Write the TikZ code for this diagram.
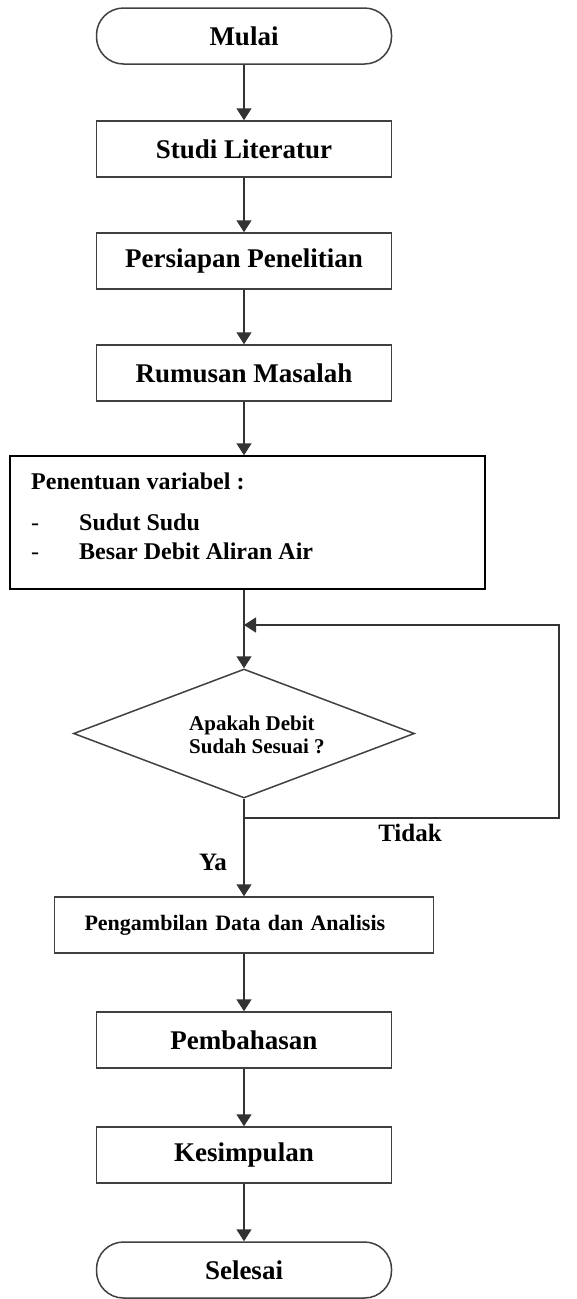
\documentclass[tikz,border=0pt]{standalone}
\usepackage{fontspec}
\setmainfont{Liberation Serif}
\usetikzlibrary{arrows.meta,shapes.geometric}

\begin{document}
\begin{tikzpicture}[x=1pt,y=-1pt,
  box/.style={draw=black!75,line width=1.5pt,minimum width=295pt,minimum height=56pt,inner sep=0pt,font=\fontsize{27}{32}\selectfont\bfseries},
  ends/.style={box,rounded corners=27pt},
  link/.style={draw=black!80,line width=1.5pt,-{Triangle[width=15pt,length=12pt]}},
  tag/.style={inner sep=0pt,font=\fontsize{25}{30}\selectfont\bfseries}]
\useasboundingbox (0,0) rectangle (577,1299);
\node[ends] (mulai) at (244,36) {Mulai};
\node[box] (studi) at (244,149) {Studi Literatur};
\node[box] (persiapan) at (244,261) {Persiapan Penelitian};
\node[box] (rumusan) at (244,373) {Rumusan Masalah};
\node[box,draw=black,minimum width=475pt,minimum height=133pt] (variabel) at (247.5,522.5) {};
\node[anchor=north west,align=left,inner sep=0pt,font=\fontsize{24}{29}\selectfont\bfseries] (isi) at (31,473)
  {Penentuan variabel :\\[12pt]\makebox[48pt][l]{\mdseries -}Sudut Sudu\\\makebox[48pt][l]{\mdseries -}Besar Debit Aliran Air};
\node[draw=black!75,line width=1.5pt,diamond,minimum width=341pt,minimum height=129pt,inner sep=0pt] (cek) at (244,733.5) {};
\node[anchor=west,align=left,inner sep=0pt,font=\fontsize{21}{23}\selectfont\bfseries] (tanya) at (189,734.5) {Apakah Debit\\Sudah Sesuai ?};
\node[box,minimum width=379pt,text width=319pt,align=left,font=\fontsize{22}{26}\selectfont\bfseries] (ambil) at (244,925) {Pengambilan Data dan Analisis};
\node[box] (bahas) at (244,1040) {Pembahasan};
\node[box] (simpul) at (244,1155) {Kesimpulan};
\node[ends] (selesai) at (244,1270) {Selesai};
\coordinate (masuk) at (244,625);
\coordinate (kananatas) at (559,625);
\coordinate (kananbawah) at (559,818);
\coordinate (pisah) at (244,818);
\node[tag] (tidak) at (410,833) {Tidak};
\node[tag] (ya) at (213,862) {Ya};
\draw[link] (mulai) -- (studi);
\draw[link] (studi) -- (persiapan);
\draw[link] (persiapan) -- (rumusan);
\draw[link] (rumusan) -- (rumusan |- variabel.north);
\draw[link] (cek.north |- variabel.south) -- (cek.north);
\draw[link] (cek) -- (ambil);
\draw[link] (pisah) -- (kananbawah) -- (kananatas) -- (masuk);
\draw[link] (ambil) -- (bahas);
\draw[link] (bahas) -- (simpul);
\draw[link] (simpul) -- (selesai);
\end{tikzpicture}
\end{document}
